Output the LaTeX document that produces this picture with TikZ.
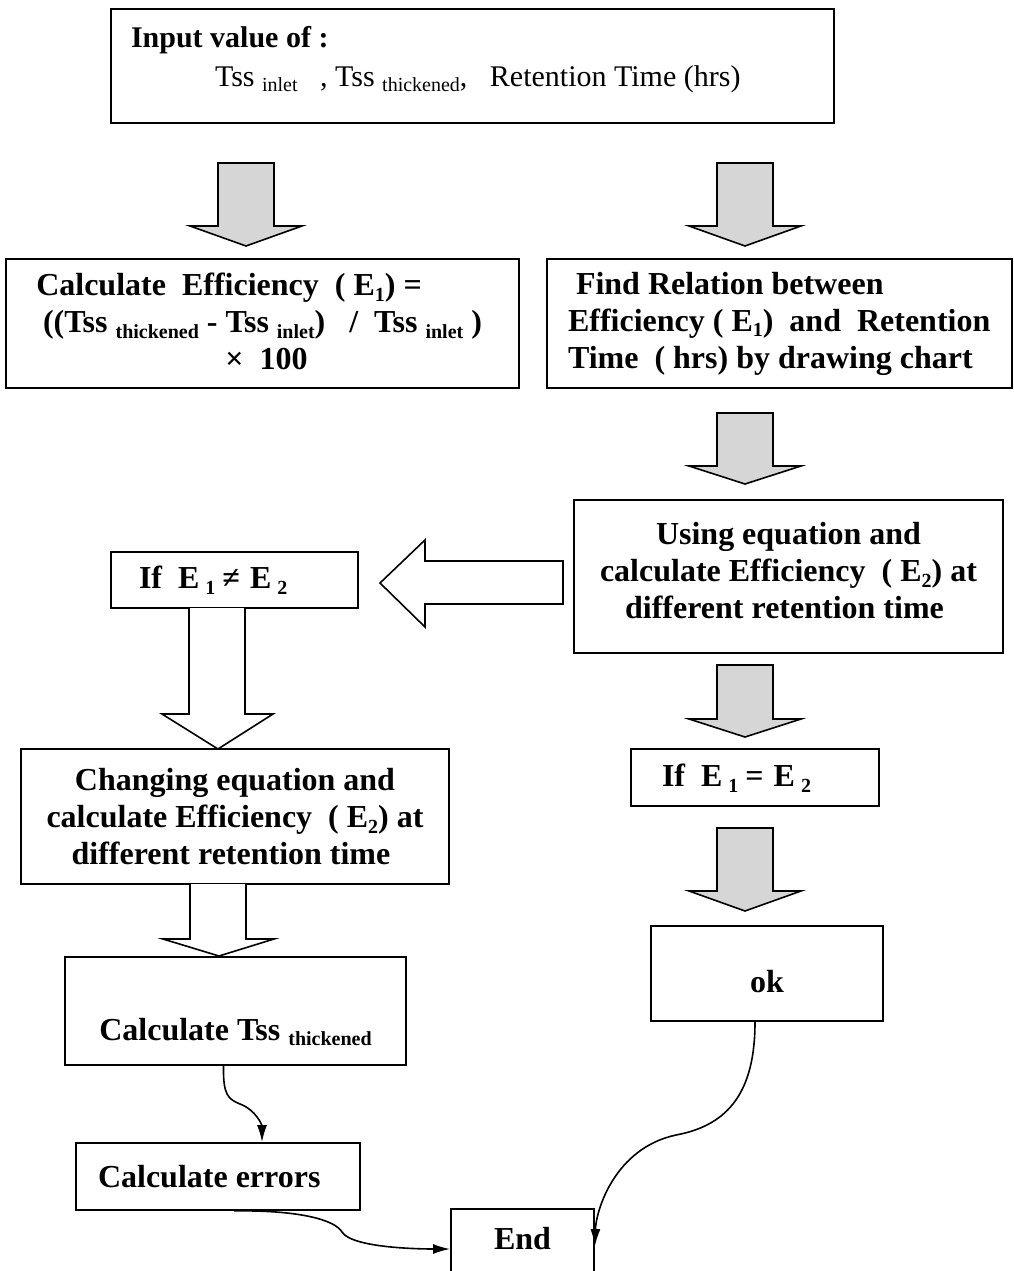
\documentclass[tikz,border=0pt]{standalone}
\usepackage{fontspec}
\setmainfont{Liberation Serif}
\usetikzlibrary{arrows.meta, calc}
\newcommand{\lowsub}[1]{\raisebox{-0.18em}{\fontsize{20}{20}\selectfont #1}}

\begin{document}
\begin{tikzpicture}[x=1pt, y=-1pt,
  box/.style={draw, line width=1.8pt, inner sep=0pt, font=\fontsize{32}{37}\selectfont\bfseries},
  grayblock/.style={draw, line width=1.6pt, fill=black!16},
  whiteblock/.style={draw, line width=1.6pt, fill=white},
  link/.style={line width=1.6pt, -{Latex[length=17pt, width=10pt]}}]
\useasboundingbox (0,0) rectangle (1014,1271);

% boxes
\node[box, font=\fontsize{30}{39}\selectfont, minimum width=723pt, minimum height=114pt, text width=683pt, align=flush left, text depth=58pt] (input) at (472.5,66) {{\bfseries Input value of :}\\\hspace*{84pt}Tss \lowsub{inlet}\ \ \ , Tss \lowsub{thickened},\ \ \ Retention Time (hrs)};
\node[box, minimum width=513pt, minimum height=129pt, align=center, text depth=4pt] (calc) at (262.5,323.5) {Calculate\ \ Efficiency\ \ ( E\lowsub{1}) =\hspace*{67pt}\\((Tss \lowsub{thickened}\ - Tss \lowsub{inlet})\ \ \ /\ \ Tss \lowsub{inlet} )\\\hspace*{8pt}× \ 100};
\node[box, minimum width=465pt, minimum height=129pt, text width=423pt, align=flush left] (find) at (779.5,323.5) {\mbox{\ Find Relation between}\\\mbox{Efficiency ( E\lowsub{1})\ \ and\ \ Retention}\\\mbox{Time\ \ ( hrs) by drawing chart}};
\node[box, minimum width=429pt, minimum height=153pt, align=center, text depth=12pt] (using) at (788.5,576.5) {Using equation and\\calculate Efficiency\ \ ( E\lowsub{2}) at\\different retention time\ \ };
\node[box, minimum width=247pt, minimum height=56pt, text width=191pt, align=flush left] (ifneq) at (234.5,580) {If\hspace{16pt}E\hspace{6pt}\lowsub{1}\hspace{7pt}≠\hspace{10pt}E\hspace{6pt}\lowsub{2}};
\node[box, minimum width=248pt, minimum height=57pt, text width=186pt, align=flush left, text depth=4pt] (ifeq) at (755,777.5) {If\hspace{16pt}E\hspace{6pt}\lowsub{1}\hspace{7pt}=\hspace{10pt}E\hspace{6pt}\lowsub{2}};
\node[box, minimum width=428pt, minimum height=135pt, align=center] (change) at (235,816.5) {Changing equation and\\calculate Efficiency\ \ ( E\lowsub{2}) at\\different retention time\ \ };
\node[box, minimum width=341pt, minimum height=108pt, text height=58pt, text depth=0pt] (tss) at (235.5,1011) {Calculate Tss \lowsub{thickened}};
\node[box, minimum width=232pt, minimum height=95pt, text height=37pt, text depth=0pt] (ok) at (767,973.5) {ok};
\node[box, minimum width=284pt, minimum height=67pt, text width=240pt, align=flush left] (err) at (218,1176.5) {Calculate errors};
\node[box, minimum width=143pt, minimum height=94pt, text height=10pt, text depth=24pt] (end) at (522.5,1256) {End};

% gray block arrows
\draw[grayblock] (218,163) -- (274,163) -- (274,226) -- (302,226) -- (246,246) -- (190,226) -- (218,226) -- cycle;
\draw[grayblock] (717,163) -- (773,163) -- (773,226) -- (801,226) -- (745,246) -- (689,226) -- (717,226) -- cycle;
\draw[grayblock] (717,413) -- (773,413) -- (773,466) -- (801,466) -- (745,484) -- (689,466) -- (717,466) -- cycle;
\draw[grayblock] (717,665) -- (773,665) -- (773,719) -- (801,719) -- (745,737) -- (689,719) -- (717,719) -- cycle;
\draw[grayblock] (717,828) -- (773,828) -- (773,891) -- (801,891) -- (745,911) -- (689,891) -- (717,891) -- cycle;

% white block arrows
\draw[whiteblock] (563,561) -- (425,561) -- (425,540) -- (380,583) -- (425,627) -- (425,604) -- (563,604) -- cycle;
\draw[whiteblock] (189,608) -- (189,714) -- (162,714) -- (218,749) -- (273,714) -- (245,714) -- (245,608);
\draw[whiteblock] (190,884) -- (190,939) -- (163,939) -- (219,956) -- (274,939) -- (246,939) -- (246,884);

% links
\draw[link] ($(tss.south)+(-12,0)$) .. controls (223,1095) and (228,1099) .. (240,1104) .. controls (256,1110) and (262,1125) .. ($(err.north)+(44,0)$);
\draw[link] ($(err.south)+(16,0)$) .. controls (300,1210) and (335,1220) .. (342,1232) .. controls (352,1248) and (420,1249) .. ($(end.west)+(0,-7)$);
\draw[link] ($(ok.south)+(-12,0)$) .. controls (755,1090) and (730,1125) .. (676,1135) .. controls (615,1148) and (596,1210) .. ($(end.north east)+(0,38)$);
\end{tikzpicture}
\end{document}
